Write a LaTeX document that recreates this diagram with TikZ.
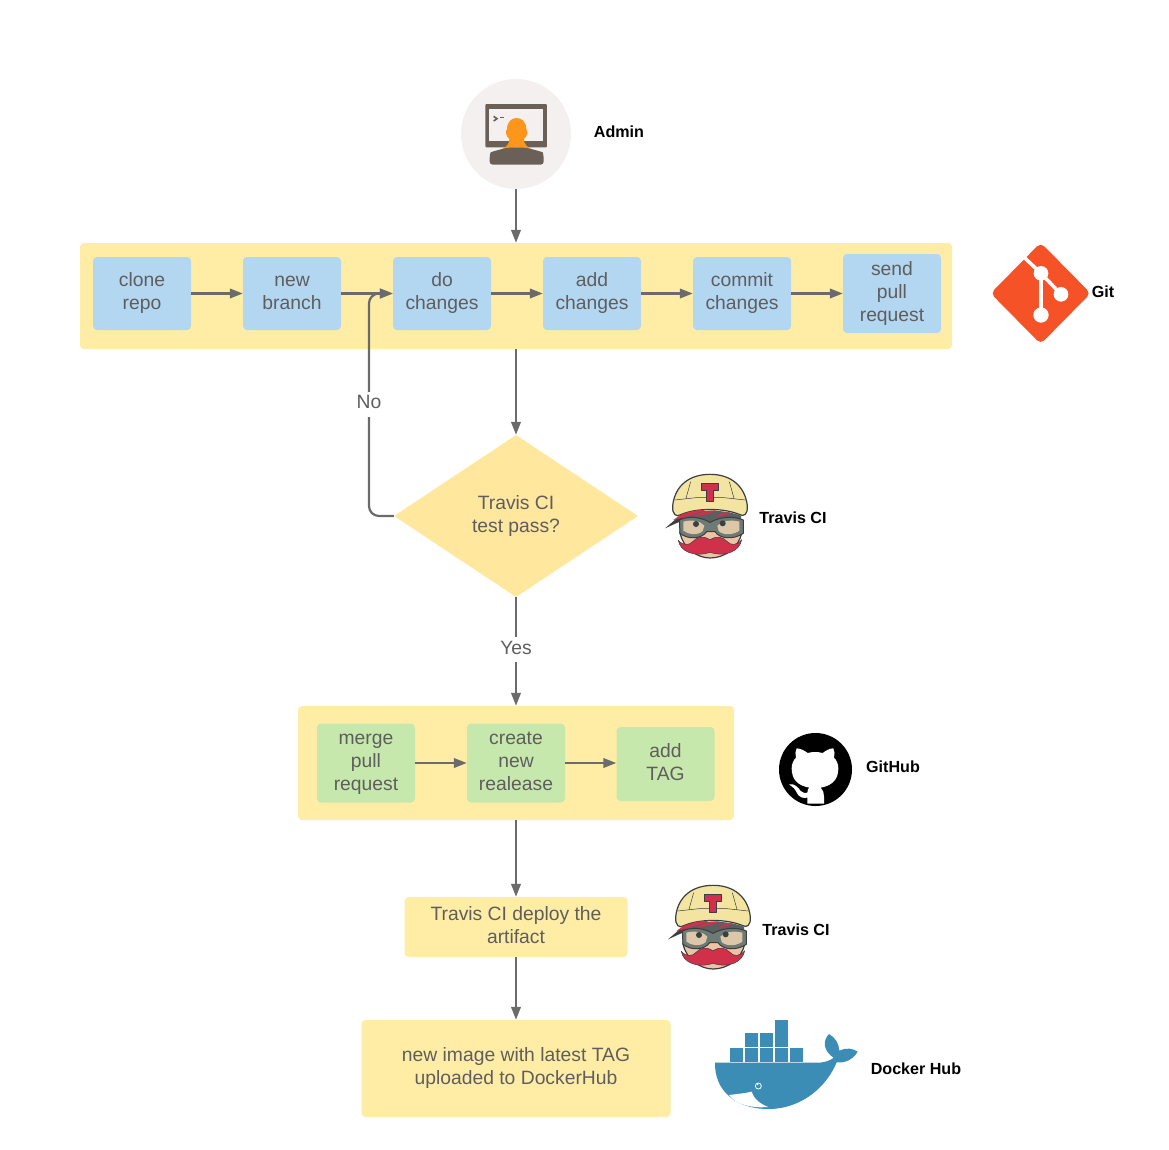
\documentclass[tikz,border=0pt]{standalone}
\usepackage{fontspec}
\setmainfont{Liberation Sans}
\usetikzlibrary{shapes.geometric,arrows.meta}
\definecolor{txt}{HTML}{5E5E5E}
\definecolor{wire}{HTML}{6B6B6B}
\definecolor{bandy}{HTML}{FFEDA6}
\definecolor{diay}{HTML}{FFE79E}
\definecolor{blu}{HTML}{B3D6F1}
\definecolor{grn}{HTML}{C7E8AC}
\definecolor{tcream}{HTML}{F3E5A1}
\definecolor{tdark}{HTML}{3A3F42}
\definecolor{thair}{HTML}{5A5F60}
\definecolor{tred}{HTML}{D1304A}
\definecolor{tskin}{HTML}{EDC3A4}
\definecolor{tgrey}{HTML}{6E7A74}
\definecolor{tlens}{HTML}{DCC8A8}
\definecolor{dock}{HTML}{3B8DB6}
\definecolor{gitc}{HTML}{F55228}
\definecolor{adm}{HTML}{6B6058}
\definecolor{admbg}{HTML}{F4F0EF}
\definecolor{admo}{HTML}{FF961C}
\newcommand{\tx}[1]{\begin{tabular}{@{}c@{}}#1\end{tabular}}
\tikzset{
  base/.style={font=\fontsize{19.3}{23}\selectfont,text=txt,inner sep=0pt,anchor=center},
  bluebox/.style={base,fill=blu,rounded corners=4pt,minimum width=98pt,minimum height=73pt},
  greenbox/.style={base,fill=grn,rounded corners=4pt,minimum width=98pt,minimum height=79pt},
  yellowbox/.style={base,fill=bandy,rounded corners=4pt},
  band/.style={fill=bandy,rounded corners=4pt,inner sep=0pt},
  logolabel/.style={font=\fontsize{16.1}{18}\selectfont\bfseries,text=black,inner sep=0pt},
  wirearrow/.style={draw=wire,line width=2.2pt,-{Triangle[length=13pt,width=9.5pt]}},
  wirelabel/.style={base,fill=white,inner xsep=1pt,inner ysep=1pt}
}
\newcommand{\travislogo}[2]{%
\begin{scope}[shift={(#1,#2)},x=0.3333pt,y=-0.3333pt,line join=round]
  % face
  \fill[tskin,draw=tdark,line width=1.2pt] (62,170) -- (60,205) .. controls (70,248) and (110,279) .. (150,279) .. controls (195,279) and (235,248) .. (245,205) -- (243,170) -- cycle;
  % helmet
  \fill[tcream,draw=tdark,line width=1.2pt] (38,122) .. controls (45,60) and (90,28) .. (150,28) .. controls (215,28) and (255,65) .. (262,122) .. controls (264,150) and (250,155) .. (240,149) .. controls (190,128) and (110,128) .. (62,149) .. controls (50,157) and (36,150) .. (38,122) -- cycle;
  \draw[tdark,line width=.5pt] (92,50) -- (78,100) (208,50) -- (222,100) (44,105) -- (108,98) -- (192,98) -- (256,105);
  % T badge
  \fill[tred,draw=tdark,line width=.8pt] (125,54) -- (176,54) -- (176,76) -- (160,76) -- (160,108) -- (140,108) -- (140,76) -- (125,76) -- cycle;
  % hair
  \fill[thair] (62,152) .. controls (110,132) and (190,132) .. (243,152) -- (245,175) -- (60,175) -- cycle;
  \fill[tdark] (15,190) -- (62,150) -- (70,165) -- cycle;
  \fill[tred] (40,165) .. controls (70,140) and (110,134) .. (140,134) .. controls (110,146) and (80,154) .. (55,162) -- cycle;
  \fill[tred] (100,155) .. controls (120,140) and (150,136) .. (170,136) .. controls (150,146) and (125,152) .. (100,155) -- cycle;
  \fill[tred] (165,157) .. controls (175,146) and (195,140) .. (212,142) .. controls (195,150) and (180,154) .. (165,157) -- cycle;
  % goggles
  \fill[tgrey,draw=tdark,line width=1pt] (58,165) .. controls (90,150) and (125,158) .. (150,172) .. controls (175,158) and (215,150) .. (250,165) -- (250,205) .. controls (220,225) and (180,222) .. (165,200) -- (140,200) .. controls (125,222) and (85,225) .. (60,205) -- cycle;
  \fill[tlens] (70,170) .. controls (95,163) and (122,168) .. (133,182) -- (128,198) .. controls (112,213) and (85,209) .. (70,197) -- cycle;
  \fill[tlens] (238,170) .. controls (212,163) and (185,168) .. (172,182) -- (176,198) .. controls (192,213) and (222,209) .. (238,197) -- cycle;
  \fill[tdark] (108,177) circle[radius=9] (188,175) circle[radius=9];
  % moustache
  \fill[tred,draw=tdark,line width=.5pt] (150,224) .. controls (132,212) and (112,214) .. (98,230) .. controls (88,241) and (70,243) .. (55,226) .. controls (60,258) and (100,278) .. (150,262) .. controls (200,278) and (240,256) .. (245,224) .. controls (230,243) and (212,241) .. (202,230) .. controls (188,214) and (168,212) .. (150,224) -- cycle;
\end{scope}}
\begin{document}
\begin{tikzpicture}[x=1pt,y=-1pt]
\useasboundingbox (0,0) rectangle (1169,1149);
\fill[white] (0,0) rectangle (1169,1149);

% Admin
\node[circle,fill=admbg,minimum size=110pt,inner sep=0pt] (admin) at (516,134) {};
\begin{scope}[shift={(450,70)},x=0.3333pt,y=-0.3333pt]
  \fill[adm,rounded corners=1pt] (106,102) rectangle (291,232);
  \fill[admbg] (118,118) rectangle (280,212);
  \draw[adm,line width=1.6pt] (131,139) -- (141,146) -- (131,153);
  \draw[adm,line width=1.6pt] (150,143) -- (162,143);
  \fill[admo] (150,240) .. controls (170,232) and (178,222) .. (178,207) .. controls (166,197) and (166,182) .. (171,178) .. controls (171,155) and (185,144) .. (200,144) .. controls (215,144) and (229,155) .. (229,178) .. controls (234,182) and (234,197) .. (222,207) .. controls (222,222) and (230,232) .. (250,240) -- cycle;
  \fill[adm,rounded corners=3pt] (119,284) -- (119,256) .. controls (122,246) and (145,240) .. (172,233) -- (228,233) .. controls (255,240) and (278,246) .. (281,256) -- (281,284) -- cycle;
\end{scope}
\node[logolabel] (adminlabel) at (619,131.5) {Admin};

% Git band
\node[band,minimum width=872pt,minimum height=106pt] (gitband) at (516,296) {};
\node[bluebox] (clone) at (142,293.5) {\tx{clone\\repo}};
\node[bluebox] (newbr) at (292,293.5) {\tx{new\\branch}};
\node[bluebox] (dochg) at (442,293.5) {\tx{do\\changes}};
\node[bluebox] (addchg) at (592,293.5) {\tx{add\\changes}};
\node[bluebox] (commit) at (742,293.5) {\tx{commit\\changes}};
\node[bluebox,minimum height=79pt] (send) at (892,293.5) {\tx{send\\pull\\request}};

% Git logo
\begin{scope}[shift={(985,235)},x=0.3333pt,y=-0.3333pt]
  \fill[gitc,rounded corners=5pt] (167,23) -- (317,175) -- (167,327) -- (17,175) -- cycle;
  \draw[white,line width=3.6pt] (115,65) -- (168,115) -- (228,178) (168,115) -- (168,240);
  \fill[white] (168,115) circle[radius=22] (228,178) circle[radius=22] (168,240) circle[radius=23];
\end{scope}
\node[logolabel] (gitlabel) at (1103,291.5) {Git};

% Decision
\node[diamond,aspect=1.5,fill=diay,minimum width=244pt,minimum height=162pt,inner sep=0pt,base] (test) at (516,516) {\tx{Travis CI\\test pass?}};
\travislogo{660}{465}
\node[logolabel] (travlabel) at (793,517.5) {Travis CI};

% GitHub band
\node[band,minimum width=436pt,minimum height=114pt] (ghband) at (516,763) {};
\node[greenbox] (merge) at (366,763) {\tx{merge\\pull\\request}};
\node[greenbox] (release) at (516,763) {\tx{create\\new\\realease}};
\node[greenbox,minimum height=74pt] (tag) at (665.5,764) {\tx{add\\TAG}};

% GitHub logo
\node[circle,fill=black,minimum size=73pt,inner sep=0pt] (ghlogo) at (815.5,769.5) {};
\begin{scope}[shift={(770,725)},x=0.3333pt,y=-0.3333pt]
  \fill[white] (112,236) -- (112,218) .. controls (85,222) and (82,205) .. (78,198) .. controls (72,188) and (62,182) .. (57,178) .. controls (75,175) and (85,188) .. (92,198) .. controls (98,205) and (108,205) .. (112,203) .. controls (112,195) and (115,190) .. (118,188) .. controls (85,182) and (65,165) .. (65,130) .. controls (65,118) and (70,105) .. (78,98) .. controls (75,88) and (76,78) .. (80,70) .. controls (92,70) and (105,78) .. (113,84) .. controls (128,80) and (142,80) .. (158,84) .. controls (166,78) and (178,70) .. (190,70) .. controls (194,78) and (195,88) .. (192,98) .. controls (200,105) and (205,118) .. (205,130) .. controls (205,165) and (185,182) .. (152,188) .. controls (160,195) and (162,205) .. (162,215) -- (162,236) -- cycle;
\end{scope}
\node[logolabel] (ghlabel) at (893,766.5) {GitHub};

% Deploy
\node[yellowbox,minimum width=223pt,minimum height=60pt] (deploy) at (516,927) {\tx{Travis CI deploy the\\artifact}};
\travislogo{663}{876}
\node[logolabel] (travlabelb) at (796,929.5) {Travis CI};

% Docker
\node[yellowbox,minimum width=309pt,minimum height=97pt] (image) at (516,1068.5) {\tx{new image with latest TAG\\uploaded to DockerHub}};
\begin{scope}[shift={(705,1010)},x=0.3333pt,y=-0.3333pt]
  \fill[dock] (30,158) -- (345,158) .. controls (365,156) and (378,150) .. (386,143) .. controls (358,125) and (350,95) .. (372,72) .. controls (390,82) and (402,100) .. (403,122) .. controls (422,112) and (445,115) .. (458,125) .. controls (445,148) and (420,160) .. (395,157) .. controls (365,230) and (290,297) .. (190,297) .. controls (90,297) and (28,240) .. (30,158) -- cycle;
  \fill[white] (72,255) .. controls (95,252) and (120,250) .. (140,245) .. controls (145,265) and (165,282) .. (190,291) .. controls (140,295) and (95,285) .. (72,255) -- cycle;
  \draw[white,line width=.8pt] (160,228) circle[radius=9];
  \fill[white] (158,224) circle[radius=2];
  \foreach \xa in {75,119,164,209,254} \fill[dock] (\xa,115) rectangle ++(39,40);
  \foreach \xa in {119,164,209} \fill[dock] (\xa,70) rectangle ++(39,40);
  \fill[dock] (209,31) rectangle ++(39,38);
\end{scope}
\node[logolabel] (dklabel) at (916,1068.5) {Docker Hub};

% Connectors
\draw[wirearrow] (admin.south) -- (gitband.north);
\draw[wirearrow] (clone) -- (newbr);
\draw[wirearrow] (newbr) -- (dochg);
\draw[wirearrow] (dochg) -- (addchg);
\draw[wirearrow] (addchg) -- (commit);
\draw[wirearrow] (commit) -- (send);
\draw[wirearrow] (gitband.south) -- (test.north);
\draw[wirearrow,rounded corners=10pt] (test.west) -- (369,516) -- (369,293.5) -- (dochg.west);
\draw[wirearrow] (test.south) -- (ghband.north);
\draw[wirearrow] (merge) -- (release);
\draw[wirearrow] (release.east) -- (release.east -| tag.west);
\draw[wirearrow] (ghband.south) -- (deploy.north);
\draw[wirearrow] (deploy.south) -- (image.north);
\node[wirelabel] (nolabel) at (369,404) {\tx{No}};
\node[wirelabel] (yeslabel) at (516,649.5) {\tx{Yes}};
\end{tikzpicture}
\end{document}
